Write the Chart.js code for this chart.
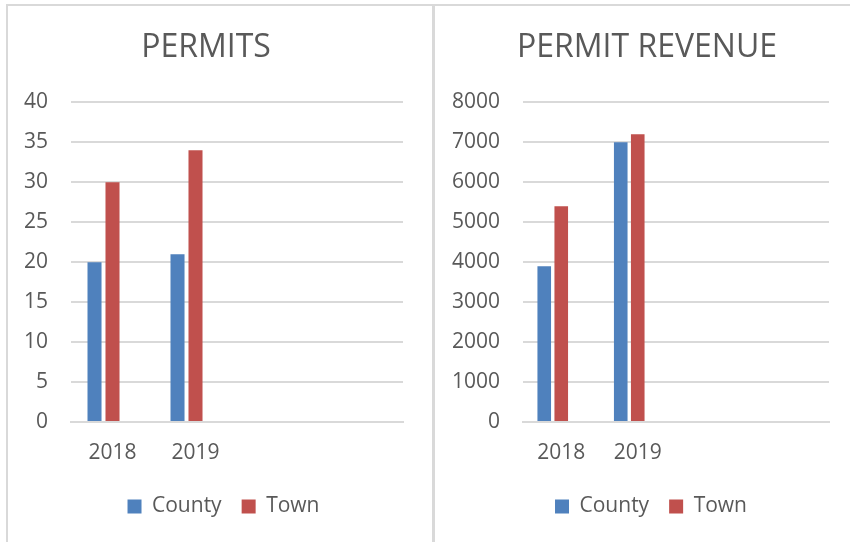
<!DOCTYPE html>
<html>
<head>
<meta charset="utf-8">
<script src="https://cdn.jsdelivr.net/npm/chart.js@4"></script>
<style>
  body { margin: 0; background: #fff; width: 850px; height: 542px; overflow: hidden; position: relative; }
  .line { position: absolute; background: #d9d9d9; }
  canvas { position: absolute; }
</style>
</head>
<body>
<div class="line" style="left:6px;top:4px;width:844px;height:2px"></div>
<div class="line" style="left:6px;top:4px;width:2px;height:538px"></div>
<div class="line" style="left:432px;top:4px;width:3px;height:538px"></div>
<canvas id="chartPermits" width="424" height="537" style="left:8px;top:5px"></canvas>
<canvas id="chartRevenue" width="414" height="537" style="left:436px;top:5px"></canvas>
<script>
const years = ["2018", "2019", "", ""];
const seriesNames = ["County", "Town"];
const permitsCounty = [20, 21];
const permitsTown = [30, 34];
const revenueCounty = [3900, 7000];
const revenueTown = [5400, 7200];
const permitsAxis = { max: 40, step: 5 };
const revenueAxis = { max: 8000, step: 1000 };

const textColor = "#595959";
const gridColor = "#d9d9d9";
const font = "'Open Sans', 'Noto Sans', sans-serif";

// moves title / legend sideways after layout
const nudge = {
  id: "nudge",
  afterLayout(chart, args, opts) {
    if (opts.title) { chart.titleBlock.left += opts.title; chart.titleBlock.right += opts.title; }
    if (opts.legend) { chart.legend.left += opts.legend; chart.legend.right += opts.legend; }
  },
};

function makeChart(el, title, county, town, axis, cfg) {
  return new Chart(document.querySelector(el), {
    type: "bar",
    plugins: [nudge],
    data: {
      labels: years,
      datasets: [
        { label: seriesNames[0], data: county, backgroundColor: "#4f81bd" },
        { label: seriesNames[1], data: town, backgroundColor: "#c0504d" },
        { label: "", data: [], backgroundColor: "#9bbb59" },
      ],
    },
    options: {
      responsive: false,
      animation: false,
      categoryPercentage: cfg.catPct,
      barPercentage: cfg.barPct,
      layout: { padding: { left: 0, right: cfg.right, top: 0, bottom: 15 } },
      scales: {
        x: {
          grid: { display: false },
          border: { color: gridColor, width: 2 },
          ticks: { color: textColor, font: { family: font, size: 21 }, padding: 10, maxRotation: 0 },
          afterFit: (s) => { s.height = 54; },
        },
        y: {
          min: 0,
          max: axis.max,
          grid: { color: gridColor, lineWidth: 2, drawTicks: false },
          border: { display: false },
          ticks: {
            stepSize: axis.step,
            color: textColor,
            font: { family: font, size: 21 },
            padding: 23,
            callback: (v) => String(v),
          },
          afterFit: (s) => { s.width = cfg.yWidth; },
        },
      },
      plugins: {
        title: {
          display: true,
          text: title,
          color: textColor,
          font: { family: font, size: 32, weight: "normal" },
          padding: { top: 24, bottom: 35 },
        },
        legend: {
          position: "bottom",
          labels: {
            color: textColor,
            font: { family: font, size: 21 },
            boxWidth: 14,
            boxHeight: 14,
            padding: 20,
            filter: (item) => item.text !== "",
          },
        },
        tooltip: { enabled: false },
        nudge: { title: cfg.titleShift, legend: cfg.legendShift },
      },
    },
  });
}

makeChart("#chartPermits", "PERMITS", permitsCounty, permitsTown, permitsAxis,
  { right: 29, yWidth: 63, catPct: 0.65, barPct: 0.78, titleShift: 0.5, legendShift: 18 });
makeChart("#chartRevenue", "PERMIT REVENUE", revenueCounty, revenueTown, revenueAxis,
  { right: 21, yWidth: 87, catPct: 0.667, barPct: 0.8, titleShift: 14.5, legendShift: 18.5 });
</script>
</body>
</html>
